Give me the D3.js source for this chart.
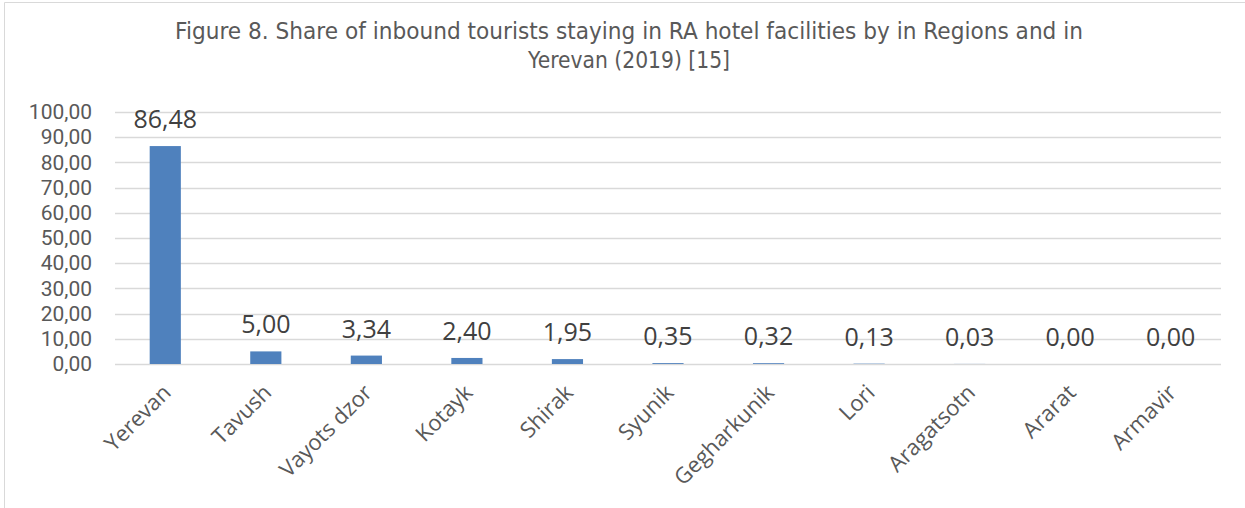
<!DOCTYPE html>
<html>
<head>
<meta charset="utf-8">
<script src="https://d3js.org/d3.v7.min.js"></script>
<style>
  body { margin: 0; background: #fff; }
  svg { display: block; }
</style>
</head>
<body>
<div id="chart"></div>
<script>
const regions = ["Yerevan", "Tavush", "Vayots dzor", "Kotayk", "Shirak", "Syunik",
                 "Gegharkunik", "Lori", "Aragatsotn", "Ararat", "Armavir"];
const shares = [86.48, 5.00, 3.34, 2.40, 1.95, 0.35, 0.32, 0.13, 0.03, 0.00, 0.00];
const yTicks = [0, 10, 20, 30, 40, 50, 60, 70, 80, 90, 100];
const titleLines = ["Figure 8. Share of inbound tourists staying in RA hotel facilities by in Regions and in",
                    "Yerevan (2019) [15]"];

const width = 1245, height = 508;
const fmt = v => d3.format(".2f")(v).replace(".", ",");

const svg = d3.select("#chart").append("svg")
    .attr("width", width)
    .attr("height", height);

// chart frame (only left and top edges visible in the crop)
svg.append("path")
    .attr("d", `M4.5,${height} V2.5 H${width}`)
    .attr("fill", "none")
    .attr("stroke", "#d9d9d9")
    .attr("stroke-width", 1);

const x = d3.scaleBand()
    .domain(regions)
    .range([115, 1221])
    .paddingInner(0.69)
    .paddingOuter(0.345);

const y = d3.scaleLinear()
    .domain([0, 100])
    .range([364, 112]);

// title (narrow face squeezed to the reference width)
svg.append("g").selectAll("text")
    .data(titleLines)
    .enter()
    .append("text")
    .attr("x", 629)
    .attr("y", (d, i) => 39 + i * 28.5)
    .attr("text-anchor", "middle")
    .attr("font-family", "'Liberation Sans Narrow', 'DejaVu Sans'")
    .attr("font-size", 23)
    .attr("fill", "#595959")
    .attr("textLength", (d, i) => i === 0 ? 908 : 202)
    .attr("lengthAdjust", "spacingAndGlyphs")
    .text(d => d);

// gridlines
svg.append("g").selectAll("line")
    .data(yTicks)
    .enter()
    .append("line")
    .attr("x1", 115)
    .attr("x2", 1221)
    .attr("y1", d => Math.round(y(d)) + 0.5)
    .attr("y2", d => Math.round(y(d)) + 0.5)
    .attr("stroke", "#d9d9d9")
    .attr("stroke-width", 1.5);

// y axis labels
const yAxis = svg.append("g")
    .attr("transform", "translate(92,0)")
    .call(d3.axisLeft(y).tickValues(yTicks).tickFormat(fmt).tickSize(0).tickPadding(0));
yAxis.select(".domain").remove();
yAxis.selectAll("text")
    .attr("font-family", "Roboto")
    .attr("font-size", 21)
    .attr("fill", "#595959");

// bars
svg.append("g").selectAll("rect")
    .data(regions)
    .enter()
    .append("rect")
    .attr("x", d => x(d))
    .attr("width", x.bandwidth())
    .attr("y", (d, i) => y(shares[i]))
    .attr("height", (d, i) => y(0) - y(shares[i]))
    .attr("fill", "#4f81bd");

// data labels
svg.append("g").selectAll("text")
    .data(regions)
    .enter()
    .append("text")
    .attr("x", d => x(d) + x.bandwidth() / 2)
    .attr("y", (d, i) => y(shares[i]) - 18)
    .attr("text-anchor", "middle")
    .attr("font-family", "Open Sans")
    .attr("font-size", 25)
    .attr("fill", "#404040")
    .text((d, i) => fmt(shares[i]));

// x axis labels, rotated
svg.append("g").selectAll("text")
    .data(regions)
    .enter()
    .append("text")
    .attr("transform", d => `translate(${x(d) + x.bandwidth() / 2 + 7},${y(0) + 30}) rotate(-45)`)
    .attr("text-anchor", "end")
    .attr("font-family", "Open Sans")
    .attr("font-size", 22)
    .attr("fill", "#595959")
    .text(d => d);
</script>
</body>
</html>
